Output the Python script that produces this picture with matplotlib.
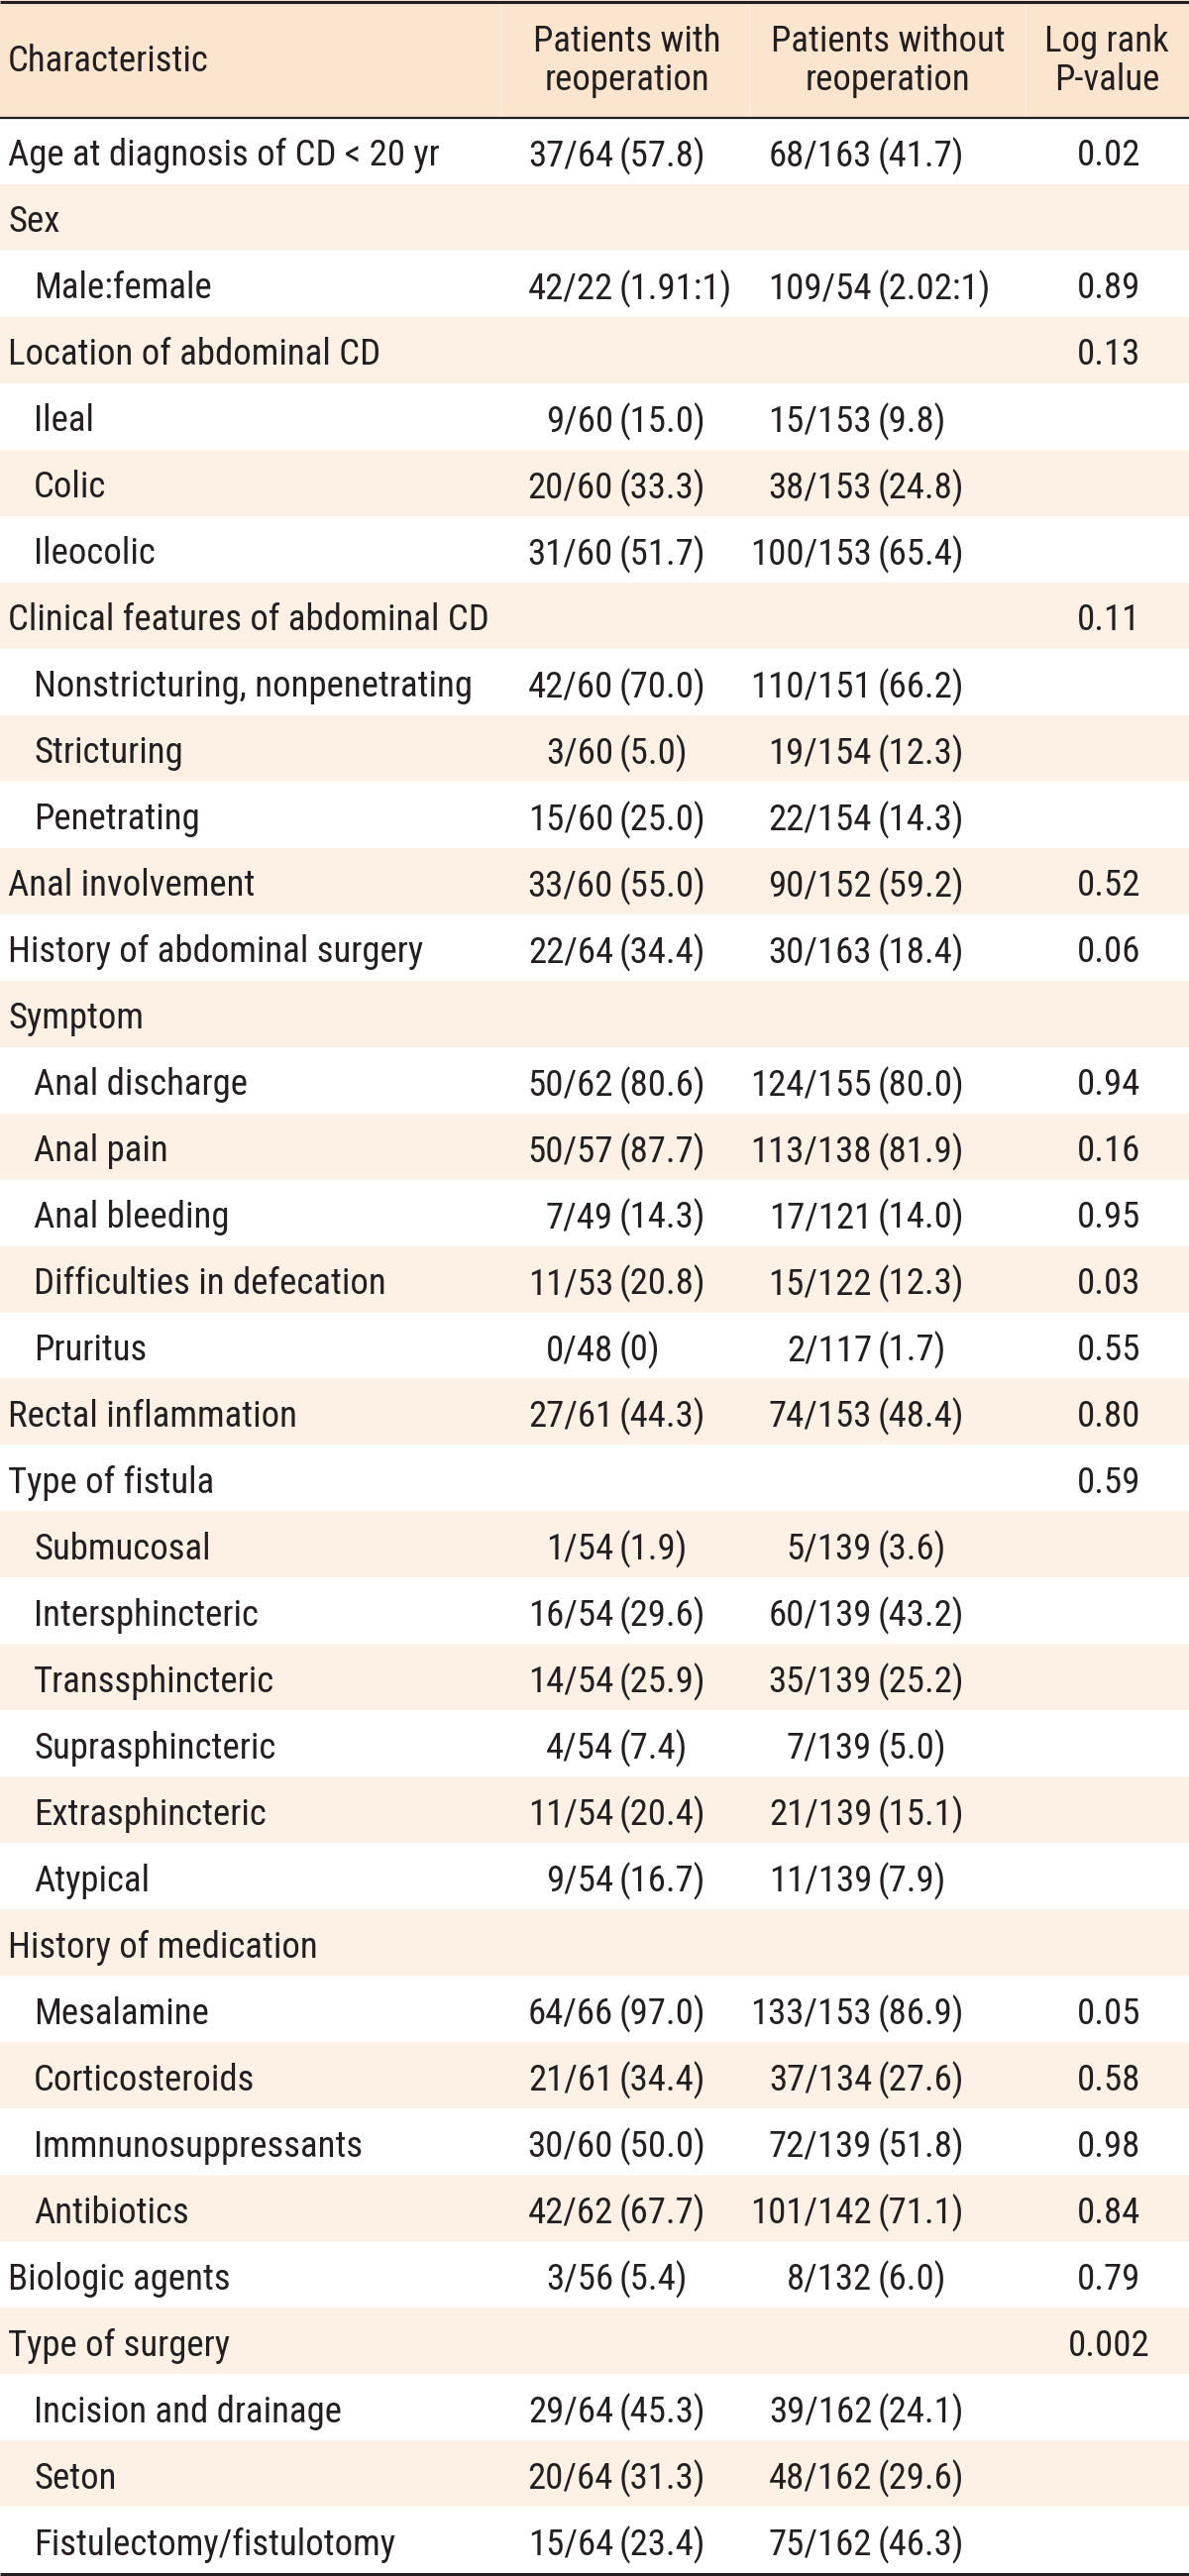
import matplotlib
matplotlib.use("Agg")
import matplotlib.pyplot as plt
from matplotlib import font_manager as fm

# ---------------- data ----------------
headers = ["Characteristic", "Patients with\nreoperation", "Patients without\nreoperation", "Log rank\nP-value"]

labels = [
    "Age at diagnosis of CD < 20 yr", "Sex", "Male:female", "Location of abdominal CD",
    "Ileal", "Colic", "Ileocolic", "Clinical features of abdominal CD",
    "Nonstricturing, nonpenetrating", "Stricturing", "Penetrating", "Anal involvement",
    "History of abdominal surgery", "Symptom", "Anal discharge", "Anal pain",
    "Anal bleeding", "Difficulties in defecation", "Pruritus", "Rectal inflammation",
    "Type of fistula", "Submucosal", "Intersphincteric", "Transsphincteric",
    "Suprasphincteric", "Extrasphincteric", "Atypical", "History of medication",
    "Mesalamine", "Corticosteroids", "Immnunosuppressants", "Antibiotics",
    "Biologic agents", "Type of surgery", "Incision and drainage", "Seton",
    "Fistulectomy/fistulotomy",
]
indent = [0, 0, 1, 0, 1, 1, 1, 0, 1, 1, 1, 0, 0, 0, 1, 1, 1, 1, 1, 0, 0,
          1, 1, 1, 1, 1, 1, 0, 1, 1, 1, 1, 0, 0, 1, 1, 1]

with_reop = [
    "37/64 (57.8)", "", "42/22 (1.91:1)", "", "9/60 (15.0)", "20/60 (33.3)", "31/60 (51.7)", "",
    "42/60 (70.0)", "3/60 (5.0)", "15/60 (25.0)", "33/60 (55.0)", "22/64 (34.4)", "",
    "50/62 (80.6)", "50/57 (87.7)", "7/49 (14.3)", "11/53 (20.8)", "0/48 (0)", "27/61 (44.3)", "",
    "1/54 (1.9)", "16/54 (29.6)", "14/54 (25.9)", "4/54 (7.4)", "11/54 (20.4)", "9/54 (16.7)", "",
    "64/66 (97.0)", "21/61 (34.4)", "30/60 (50.0)", "42/62 (67.7)", "3/56 (5.4)", "",
    "29/64 (45.3)", "20/64 (31.3)", "15/64 (23.4)",
]
without_reop = [
    "68/163 (41.7)", "", "109/54 (2.02:1)", "", "15/153 (9.8)", "38/153 (24.8)", "100/153 (65.4)", "",
    "110/151 (66.2)", "19/154 (12.3)", "22/154 (14.3)", "90/152 (59.2)", "30/163 (18.4)", "",
    "124/155 (80.0)", "113/138 (81.9)", "17/121 (14.0)", "15/122 (12.3)", "2/117 (1.7)", "74/153 (48.4)", "",
    "5/139 (3.6)", "60/139 (43.2)", "35/139 (25.2)", "7/139 (5.0)", "21/139 (15.1)", "11/139 (7.9)", "",
    "133/153 (86.9)", "37/134 (27.6)", "72/139 (51.8)", "101/142 (71.1)", "8/132 (6.0)", "",
    "39/162 (24.1)", "48/162 (29.6)", "75/162 (46.3)",
]
p_values = [
    "0.02", "", "0.89", "0.13", "", "", "", "0.11", "", "", "", "0.52", "0.06", "",
    "0.94", "0.16", "0.95", "0.03", "0.55", "0.80", "0.59", "", "", "", "", "", "", "",
    "0.05", "0.58", "0.98", "0.84", "0.79", "0.002", "", "", "",
]

# ---------------- style ----------------
avail = {f.name for f in fm.fontManager.ttflist}
fam = [f for f in ["Roboto Condensed", "Archivo Narrow", "PT Sans Narrow", "Liberation Sans Narrow"] if f in avail] + ["DejaVu Sans"]
plt.rcParams["font.family"] = fam

W, H = 1200, 2600
HEAD_BOTTOM = 119
ROW_H = (2597 - HEAD_BOTTOM) / len(labels)
HEADER_COLOR = "#FCE5CF"
STRIPE_COLOR = "#FDF1E5"
LINE_COLOR = "#231F20"
TEXT_COLOR = "#231F20"
FS = 26.5

X_LABEL = 8
X_INDENT = 34
X_COL2 = 625   # position of "(" in column 2
X_COL3 = 886   # position of "(" in column 3
X_COL4 = 1119
HEAD_X = [X_LABEL, 633, 896, 1117]

fig = plt.figure(figsize=(W / 100, H / 100), dpi=100)
ax = fig.add_axes([0, 0, 1, 1])
ax.set_xlim(0, W)
ax.set_ylim(H, 0)
ax.axis("off")

# header band
ax.axhspan(0, HEAD_BOTTOM, color=HEADER_COLOR, lw=0)
for xs in (505, 756, 1035):
    ax.plot([xs, xs], [3, HEAD_BOTTOM - 1], color="#FDEEDF", lw=1.0)

# stripes
for i in range(len(labels)):
    if i % 2 == 1:
        y0 = HEAD_BOTTOM + i * ROW_H
        ax.axhspan(y0, y0 + ROW_H, color=STRIPE_COLOR, lw=0)

# rules
ax.plot([0, W], [1.5, 1.5], color=LINE_COLOR, lw=2.2, solid_capstyle="butt")
ax.plot([0, W], [HEAD_BOTTOM, HEAD_BOTTOM], color=LINE_COLOR, lw=1.6, solid_capstyle="butt")
ax.plot([0, W], [2597.5, 2597.5], color=LINE_COLOR, lw=2.2, solid_capstyle="butt")

# header text
hy = HEAD_BOTTOM / 2 + 2
ax.text(HEAD_X[0], hy, headers[0], ha="left", va="center", fontsize=FS, color=TEXT_COLOR)
for j in (1, 2, 3):
    ax.text(HEAD_X[j], hy, headers[j], ha="center", va="center", fontsize=FS,
            color=TEXT_COLOR, linespacing=1.12, multialignment="center")

def put_value(x, y, s):
    if not s:
        return
    frac, rest = s.split(" ", 1)
    ax.text(x - 6, y, frac, ha="right", va="center_baseline", fontsize=FS, color=TEXT_COLOR)
    ax.text(x, y, rest, ha="left", va="center_baseline", fontsize=FS, color=TEXT_COLOR)

for i, lab in enumerate(labels):
    yc = HEAD_BOTTOM + (i + 0.5) * ROW_H + 1
    ax.text(X_INDENT if indent[i] else X_LABEL, yc, lab, ha="left", va="center_baseline",
            fontsize=FS, color=TEXT_COLOR)
    put_value(X_COL2, yc, with_reop[i])
    put_value(X_COL3, yc, without_reop[i])
    if p_values[i]:
        ax.text(X_COL4, yc, p_values[i], ha="center", va="center_baseline", fontsize=FS, color=TEXT_COLOR)

fig.savefig("out.png", dpi=100)
